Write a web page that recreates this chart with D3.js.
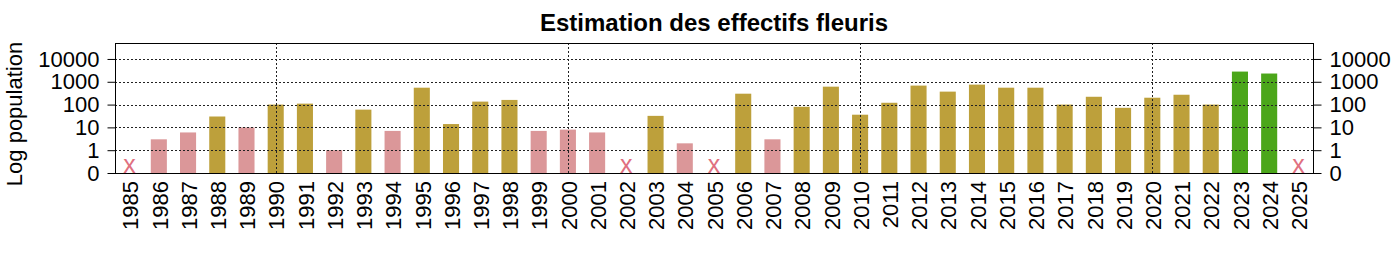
<!DOCTYPE html>
<html>
<head>
<meta charset="utf-8">
<script src="https://cdn.jsdelivr.net/npm/d3@7"></script>
<style>
  body { margin: 0; background: #fff; }
  text { font-family: "Liberation Sans", Arial, sans-serif; fill: #000; }
</style>
</head>
<body>
<div id="chart"></div>
<script>
// annees et effectifs estimes (null = pas de donnee)
var years = d3.range(1985, 2026);
var values = [null, 3, 6, 30, 10, 100, 110, 1, 60, 7,
              550, 14, 135, 160, 7, 8, 6, null, 32, 2,
              null, 300, 3, 80, 610, 36, 120, 680, 370, 750,
              550, 550, 100, 220, 72, 200, 270, 100, 2800, 2300,
              null];
var tickLabels = ["0", "1", "10", "100", "1000", "10000"];
var decades = [1990, 2000, 2010, 2020];
var colors = ["#db9799", "#bda03b", "#4ba61a"];

var width = 1400, height = 260,
    mLeft = 115, mRight = 1313, mTop = 43, mBottom = 173;

var svg = d3.select("#chart").append("svg")
  .attr("width", width)
  .attr("height", height);

var x = d3.scaleBand()
  .domain(years)
  .range([mLeft, mRight])
  .paddingInner(0.45)
  .paddingOuter(0.225);

var y = d3.scaleLinear()
  .domain([0, 5.7])
  .range([mBottom, mTop]);

var color = d3.scaleThreshold()
  .domain([11, 1000])
  .range(colors);

function logPos(v) { return v > 0 ? Math.log10(v) + 1 : 0; }

var data = years.map(function(yr, i) { return {year: yr, value: values[i]}; });

// barres
svg.append("g").selectAll("rect")
  .data(data.filter(function(d) { return d.value != null; }))
  .enter().append("rect")
  .attr("x", function(d) { return x(d.year); })
  .attr("width", x.bandwidth())
  .attr("y", function(d) { return y(logPos(d.value)); })
  .attr("height", function(d) { return y(0) - y(logPos(d.value)); })
  .attr("fill", function(d) { return color(d.value); });

// grille pointillee
var grid = svg.append("g")
  .attr("stroke", "#222")
  .attr("stroke-dasharray", "2,2")
  .attr("stroke-width", 1);

grid.selectAll("line.h")
  .data([1, 2, 3, 4, 5])
  .enter().append("line")
  .attr("x1", mLeft).attr("x2", mRight)
  .attr("y1", function(d) { return Math.round(y(d)) + 0.5; })
  .attr("y2", function(d) { return Math.round(y(d)) + 0.5; });

grid.selectAll("line.v")
  .data(decades)
  .enter().append("line")
  .attr("y1", mTop).attr("y2", mBottom)
  .attr("x1", function(d) { return Math.round(x(d) + x.bandwidth() / 2) + 0.5; })
  .attr("x2", function(d) { return Math.round(x(d) + x.bandwidth() / 2) + 0.5; });

// annees sans donnee
svg.append("g").selectAll("text")
  .data(data.filter(function(d) { return d.value == null; }))
  .enter().append("text")
  .attr("x", function(d) { return x(d.year) + x.bandwidth() / 2; })
  .attr("y", mBottom - 0.5)
  .attr("text-anchor", "middle")
  .style("font-size", "25px")
  .style("fill", "#e07080")
  .text("x");

// cadre
svg.append("rect")
  .attr("x", mLeft + 0.5).attr("y", mTop + 0.5)
  .attr("width", mRight - mLeft).attr("height", mBottom - mTop)
  .attr("fill", "none")
  .attr("stroke", "#000")
  .attr("stroke-width", 1);

var yAxisL = d3.axisLeft(y)
  .tickValues([0, 1, 2, 3, 4, 5])
  .tickFormat(function(i) { return tickLabels[i]; })
  .tickSize(8).tickPadding(8);

var yAxisR = d3.axisRight(y)
  .tickValues([0, 1, 2, 3, 4, 5])
  .tickFormat(function(i) { return tickLabels[i]; })
  .tickSize(8).tickPadding(8);

[[yAxisL, mLeft + 0.5], [yAxisR, mRight + 0.5]].forEach(function(a) {
  var g = svg.append("g")
    .attr("transform", "translate(" + a[1] + ",0)")
    .call(a[0]);
  g.select(".domain").remove();
  g.selectAll("text").style("font-size", "22px").attr("font-family", null);
  g.selectAll("line").attr("stroke", "#000");
});

// etiquettes des annees
svg.append("g").selectAll("text")
  .data(years)
  .enter().append("text")
  .attr("transform", function(d) {
    return "translate(" + (x(d) + x.bandwidth() / 2 + 1) + "," + (mBottom + 8) + ") rotate(-90)";
  })
  .attr("text-anchor", "end")
  .attr("dy", "0.35em")
  .style("font-size", "22px")
  .text(function(d) { return d; });

svg.append("text")
  .attr("transform", "translate(22," + ((mTop + mBottom) / 2 + 6) + ") rotate(-90)")
  .attr("text-anchor", "middle")
  .style("font-size", "22px")
  .text("Log population");

svg.append("text")
  .attr("x", (mLeft + mRight) / 2)
  .attr("y", 31)
  .attr("text-anchor", "middle")
  .style("font-size", "24px")
  .style("font-weight", "bold")
  .text("Estimation des effectifs fleuris");
</script>
</body>
</html>
